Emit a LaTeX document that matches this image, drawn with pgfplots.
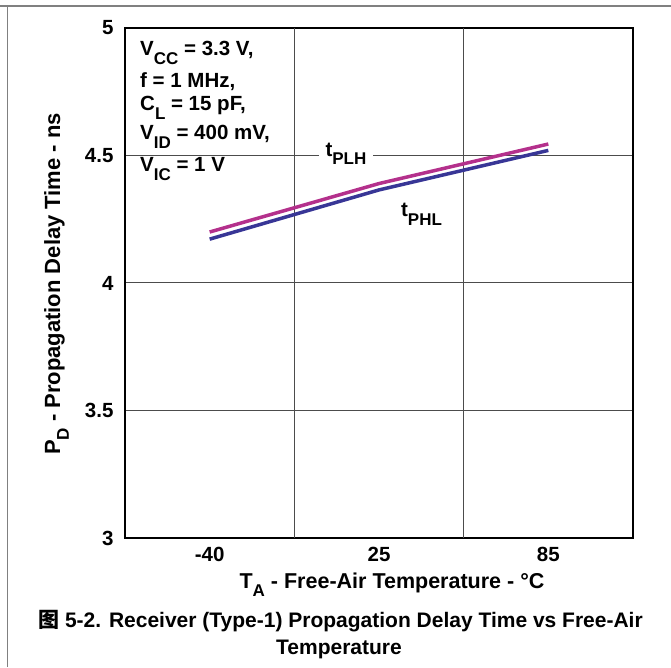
\documentclass[border=0pt]{standalone}
\usepackage{fontspec}
\setmainfont{Liberation Sans}
\newfontfamily\cjk{Noto Sans CJK SC}
\usepackage{pgfplots}
\pgfplotsset{compat=1.18}
\definecolor{plh}{RGB}{180,48,140}
\definecolor{phl}{RGB}{56,54,150}
\newcommand\sub[1]{\raisebox{-0.4em}{\fontsize{17}{17}\selectfont #1}}
\begin{document}
\begin{tikzpicture}[x=1pt,y=1pt]
\useasboundingbox (0pt,0pt) rectangle (671pt,667pt);
\draw[black!50, line width=1.5pt] (0pt,661pt) -- (671pt,661pt) (7.5pt,0pt) -- (7.5pt,661pt);
\begin{axis}[
  at={(125pt,129pt)}, anchor=south west,
  scale only axis, width=508pt, height=510pt,
  xmin=-0.5, xmax=2.5, ymin=3, ymax=5,
  xtick={0,1,2}, xticklabels={-40,25,85},
  ytick={3,3.5,4,4.5,5}, yticklabels={3,3.5,4,4.5,5},
  extra x ticks={0.5,1.5}, extra x tick labels={},
  extra x tick style={grid=major},
  ymajorgrids,
  major tick length=0pt,
  grid style={black!70, line width=1pt},
  axis line style={line width=2pt},
  tick label style={font=\bfseries\fontsize{20.5}{21}\selectfont},
  /pgf/number format/assume math mode=true,
  xticklabel style={yshift=-6pt},
  yticklabel style={xshift=-8pt},
  clip=false,
]
\addplot[color=plh, line width=3.5pt] coordinates {(0,4.200) (1,4.390) (2,4.545)};
\addplot[color=phl, line width=3.5pt] coordinates {(0,4.172) (1,4.365) (2,4.520)};
\node[fill=white, inner xsep=7pt, inner ysep=3pt, font=\bfseries\fontsize{20.5}{21}\selectfont] at (axis cs:0.805,4.506) {t\sub{PLH}};
\node[font=\bfseries\fontsize{20.5}{21}\selectfont] at (axis cs:1.251,4.269) {t\sub{PHL}};
\end{axis}
\begin{scope}[every node/.style={anchor=base west, inner sep=0pt, font=\bfseries\fontsize{20.5}{21}\selectfont}]
\node at (140pt,611pt) {V\sub{CC} = 3.3 V,};
\node at (140pt,579pt) {f = 1 MHz,};
\node at (140pt,556pt) {C\sub{L} = 15 pF,};
\node at (140pt,527pt) {V\sub{ID} = 400 mV,};
\node at (140pt,495pt) {V\sub{IC} = 1 V};
\end{scope}
\node[anchor=base, inner sep=0pt, font=\bfseries\fontsize{21.5}{22}\selectfont] at (392pt,79pt) {T\sub{A} - Free-Air Temperature - °C};
\node[rotate=90, anchor=base, inner sep=0pt, font=\bfseries\fontsize{22}{22}\selectfont] at (60pt,383pt) {P\sub{D} - Propagation Delay Time - ns};
\node[anchor=base, inner sep=0pt, font=\bfseries\fontsize{21}{22}\selectfont] at (340.5pt,40pt) {{\cjk 图} 5-2. Receiver (Type-1) Propagation Delay Time vs Free-Air};
\node[anchor=base, inner sep=0pt, font=\bfseries\fontsize{21}{22}\selectfont] at (339pt,13pt) {Temperature};
\end{tikzpicture}
\end{document}
